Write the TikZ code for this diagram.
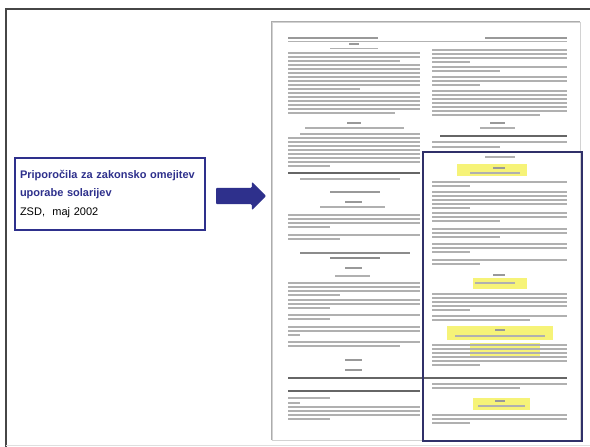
\documentclass[tikz,border=0pt]{standalone}
\usepackage{fontspec}
\setmainfont{Liberation Sans}
\usetikzlibrary{shapes.arrows}
\definecolor{navy}{RGB}{46,48,140}
\definecolor{navydark}{RGB}{48,48,105}
\definecolor{framegray}{RGB}{70,70,70}
\definecolor{hiyellow}{RGB}{246,243,120}
\newcommand\txtlines[3]{\foreach \yy in {#3} \draw[txt] (#1,\yy) -- (#2,\yy);}
\newcommand\txtline[3]{\draw[txt] (#1,#3) -- (#2,#3);}
\newcommand\hdline[3]{\draw[txthead] (#1,#3) -- (#2,#3);}
\tikzset{
  txt/.style={draw=gray!62, line width=1.9pt},
  txthead/.style={draw=gray!80, line width=1.9pt},
  rulebar/.style={draw=gray!80!black, line width=2.4pt},
  hilite/.style={fill=hiyellow, draw=none},
  infobox/.style={draw=navy, line width=1.8pt, fill=white, minimum width=190pt,
    minimum height=72pt, text width=180pt, align=left, inner xsep=5pt, inner ysep=6pt,
    font=\fontsize{11}{18.5}\selectfont},
  bigarrow/.style={single arrow, fill=navy, draw=none, minimum height=50pt,
    inner xsep=0pt, inner ysep=8pt, single arrow head extend=6pt, rounded corners=1pt},
  pagebox/.style={draw=gray!35, line width=0.6pt, fill=white, minimum width=308pt,
    minimum height=418pt, inner sep=0pt},
  markbox/.style={draw=navydark, line width=1.8pt, minimum width=159pt,
    minimum height=289pt, inner sep=0pt}
}
\begin{document}
\begin{tikzpicture}[x=1pt,y=-1pt]
\useasboundingbox (0,0) rectangle (590,447);
\fill[white] (0,0) rectangle (590,447);
% outer frame
\draw[framegray, line width=2pt] (6,447) -- (6,8.5) -- (590,8.5);
\draw[gray!25, line width=0.8pt] (6,445) -- (590,445);

% left info box
\node[infobox] (box) at (110,194) {%
  {\color{navy}\bfseries\mbox{Priporočila za zakonsko omejitev}}\\
  {\color{navy}\bfseries uporabe solarijev}\\
  ZSD,\ \ maj 2002};

% arrow
\node[bigarrow] (arrow) at (237,196) {};

% document page
\node[pagebox] (page) at (426,231) {};
\draw[gray!65, line width=1.4pt] (page.south west) -- (page.north west) -- (page.north east);

% header
\hdline{288}{378}{38}
\hdline{485}{567}{38}
\draw[gray!60, line width=0.6pt] (288,41) -- (567,41);

% ---------- left column ----------
\hdline{349}{359}{44}
\txtline{330}{378}{48.5}
\txtlines{288}{420}{53,57}\txtline{288}{400}{61}
\txtlines{288}{420}{65,69,73,77,81,85}\txtline{288}{360}{89}
\txtlines{288}{420}{93,97,101,105,109}\txtline{288}{395}{113}
\hdline{347}{361}{123}
\txtline{305}{404}{128}
\txtline{300}{420}{134}
\txtlines{288}{420}{138,142,146,150,154,158,162}\txtline{288}{330}{166}
\draw[rulebar, line width=1.6pt] (288,173) -- (420,173);
\txtline{300}{400}{179}
\hdline{330}{380}{192}
\hdline{345}{362}{202}
\txtline{320}{385}{207}
\txtlines{288}{420}{215,219,223}\txtline{288}{330}{227}
\txtline{288}{420}{235}\txtline{288}{340}{239}
\draw[txthead, draw=gray!90] (300,253) -- (410,253);
\draw[txthead, draw=gray!90] (330,258) -- (380,258);
\hdline{345}{362}{268}
\txtline{335}{370}{276}
\txtlines{288}{420}{283,287,291}\txtline{288}{340}{295}
\txtlines{288}{420}{300,304}\txtline{288}{330}{308}
\txtline{288}{420}{315}\txtline{288}{330}{319}
\txtlines{288}{420}{327,331}\txtline{288}{300}{335}
\txtline{288}{420}{342}\txtline{288}{400}{346}
\hdline{345}{362}{360}
\hdline{345}{362}{370}
\draw[rulebar, line width=1.8pt] (288,391) -- (420,391);
\txtline{288}{330}{398}\txtline{288}{300}{403}
\txtlines{288}{420}{407,411,415}\txtline{288}{330}{419}

% ---------- right column ----------
\txtlines{432}{567}{50,54,58}\txtline{432}{470}{62}
\txtline{432}{567}{67}\txtline{432}{500}{71}
\txtlines{432}{567}{77,81}\txtline{432}{480}{85}
\txtlines{432}{567}{91,95,99,103,107,111}\txtline{432}{540}{115}
\hdline{490}{505}{123}
\txtline{480}{515}{128}
\draw[rulebar, line width=1.4pt] (440,136) -- (567,136);
\txtline{432}{567}{142}\txtline{432}{500}{147}

% highlights
\fill[hilite] (457,164) rectangle (527,176);
\fill[hilite] (473,278) rectangle (527,289);
\fill[hilite] (447,326) rectangle (553,340);
\fill[hilite] (470,343) rectangle (540,357);
\fill[hilite] (473,398) rectangle (530,410);

\txtline{485}{515}{157}
\hdline{493}{505}{168}
\txtline{470}{520}{173}
\txtline{432}{567}{182}\txtline{432}{470}{186}
\txtlines{432}{567}{192,196,200,204}\txtline{432}{470}{208}
\txtlines{432}{567}{213,217}\txtline{432}{500}{221}
\txtlines{432}{567}{229,233}\txtline{432}{500}{237}
\txtlines{432}{567}{244,248}\txtline{432}{470}{252}
\txtline{432}{567}{260}\txtline{432}{480}{264}
\hdline{493}{505}{275}
\txtline{475}{515}{283}
\txtlines{432}{567}{294,298,302,306}\txtline{432}{470}{310}
\txtline{432}{567}{316}\txtline{432}{530}{320}
\hdline{495}{505}{330}
\txtline{455}{545}{336}
\txtlines{432}{567}{345,349,353,357,361}\txtline{432}{480}{365}
\txtline{432}{567}{384}\txtline{432}{520}{388}
\hdline{495}{505}{401}
\txtline{478}{525}{406}
\txtlines{432}{567}{415,419}\txtline{432}{470}{423}

% full-width rule
\draw[rulebar] (288,378) -- (567,378);

% marked section
\node[markbox] (hl) at (502.5,296.5) {};
\end{tikzpicture}
\end{document}
